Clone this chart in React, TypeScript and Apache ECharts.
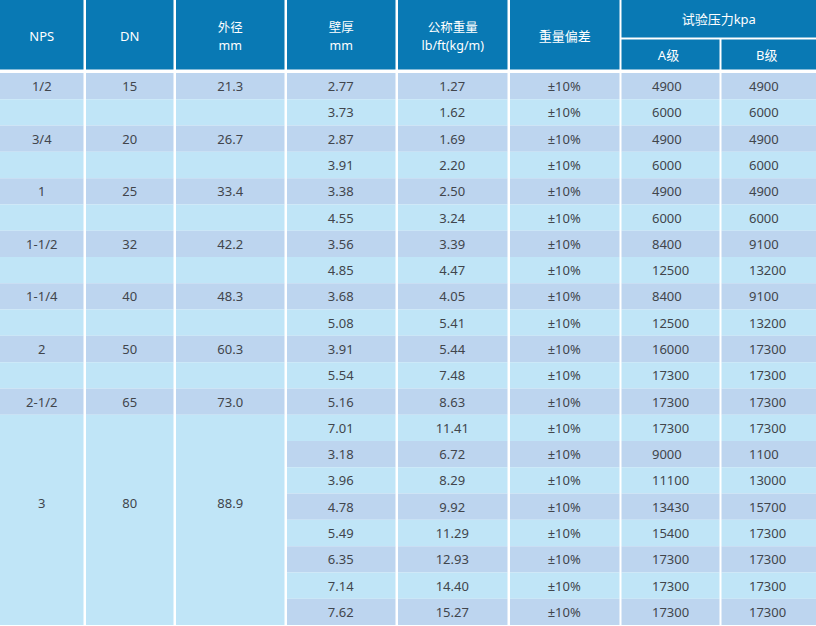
import React, { useEffect, useRef } from "react";
import * as echarts from "echarts";

// ---- data ----
const npsLabels = ["1/2", "3/4", "1", "1-1/2", "1-1/4", "2", "2-1/2", "3"];
const dnLabels = ["15", "20", "25", "32", "40", "50", "65", "80"];
const odLabels = ["21.3", "26.7", "33.4", "42.2", "48.3", "60.3", "73.0", "88.9"];
// row index where each NPS group's label sits
const groupLabelRow = [0, 2, 4, 6, 8, 10, 12, 16];
const wallThickness = ["2.77", "3.73", "2.87", "3.91", "3.38", "4.55", "3.56", "4.85", "3.68", "5.08", "3.91", "5.54", "5.16", "7.01", "3.18", "3.96", "4.78", "5.49", "6.35", "7.14", "7.62"];
const nominalWeight = ["1.27", "1.62", "1.69", "2.20", "2.50", "3.24", "3.39", "4.47", "4.05", "5.41", "5.44", "7.48", "8.63", "11.41", "6.72", "8.29", "9.92", "11.29", "12.93", "14.40", "15.27"];
const weightTolerance = ["±10%", "±10%", "±10%", "±10%", "±10%", "±10%", "±10%", "±10%", "±10%", "±10%", "±10%", "±10%", "±10%", "±10%", "±10%", "±10%", "±10%", "±10%", "±10%", "±10%", "±10%"];
const pressureA = [4900, 6000, 4900, 6000, 4900, 6000, 8400, 12500, 8400, 12500, 16000, 17300, 17300, 17300, 9000, 11100, 13430, 15400, 17300, 17300, 17300];
const pressureB = [4900, 6000, 4900, 6000, 4900, 6000, 9100, 13200, 9100, 13200, 17300, 17300, 17300, 17300, 1100, 13000, 15700, 17300, 17300, 17300, 17300];
const headerTitles = [["NPS"], ["DN"], ["外径", "mm"], ["壁厚", "mm"], ["公称重量", "lb/ft(kg/m)"], ["重量偏差"]];
const pressureTitle = "试验压力kpa";
const pressureSubTitles = ["A级", "B级"];

// ---- layout ----
const COLS: [number, number][] = [
  [0, 83.5], [86, 173.5], [176, 284.5], [287, 395.5], [398, 507.5], [510, 619.5], [621.5, 719.5], [721.5, 816],
];
const HEADER_H = 69.5;
const HEADER_SPLIT = 37.5;
const SUB_TOP = 39.5;
const BODY_TOP = 73;
const BODY_BOTTOM = 625;
const HEADER_BLUE = "#0979b4";
const DARK = "#bdd5ef";
const LIGHT = "#c0e5f7";
const TEXT = "#41454c";
const FONT = "'Noto Sans', 'Noto Sans CJK SC', sans-serif";

export default function App() {
  const ref = useRef<HTMLDivElement>(null);
  useEffect(() => {
    const chart = echarts.init(ref.current!, null, { renderer: "svg" });
    const nRows = wallThickness.length;
    const rh = (BODY_BOTTOM - BODY_TOP) / nRows;
    const rowY = (i: number) => BODY_TOP + i * rh;
    const els: any[] = [];
    const rect = (x0: number, y0: number, x1: number, y1: number, fill: string) =>
      els.push({ type: "rect", shape: { x: x0, y: y0, width: x1 - x0, height: y1 - y0 }, style: { fill }, silent: true });
    const text = (s: string, x: number, y: number, opts: any = {}) =>
      els.push({
        type: "text", x, y, silent: true,
        style: {
          text: s, fill: opts.fill || TEXT, font: `${opts.size || 13}px ${FONT}`,
          align: opts.align || "center", verticalAlign: "middle",
        },
      });

    // header
    for (let c = 0; c < 6; c++) {
      const [x0, x1] = COLS[c];
      rect(x0, 0, x1, HEADER_H, HEADER_BLUE);
      const cx = (x0 + x1) / 2;
      const lines = headerTitles[c];
      if (lines.length === 1) text(lines[0], cx, 36, { fill: "#fff" });
      else {
        text(lines[0], cx, 27.5, { fill: "#fff", size: 12.5 });
        text(lines[1], cx, 45, { fill: "#fff", size: 12.5 });
      }
    }
    rect(COLS[6][0], 0, COLS[7][1], HEADER_SPLIT, HEADER_BLUE);
    text(pressureTitle, (COLS[6][0] + COLS[7][1]) / 2, 19, { fill: "#fff" });
    for (let k = 0; k < 2; k++) {
      const [x0, x1] = COLS[6 + k];
      rect(x0, SUB_TOP, x1, HEADER_H, HEADER_BLUE);
      text(pressureSubTitles[k], (x0 + x1) / 2 - 2, 55, { fill: "#fff" });
    }

    // body backgrounds: group columns (0..2)
    const mergedStart = groupLabelRow[groupLabelRow.length - 2] + 1; // merged block starts after the 2-1/2 row
    for (let c = 0; c < 3; c++) {
      const [x0, x1] = COLS[c];
      for (let r = 0; r < mergedStart; r++) {
        rect(x0, rowY(r), x1, rowY(r + 1), r % 2 === 0 ? DARK : LIGHT);
      }
      rect(x0, rowY(mergedStart), x1, rowY(nRows), LIGHT);
    }
    // striped columns (3..7)
    for (let c = 3; c < 8; c++) {
      const [x0, x1] = COLS[c];
      for (let r = 0; r < nRows; r++) rect(x0, rowY(r), x1, rowY(r + 1), r % 2 === 0 ? DARK : LIGHT);
    }

    // group labels
    const groupCols = [npsLabels, dnLabels, odLabels];
    groupCols.forEach((arr, c) => {
      const [x0, x1] = COLS[c];
      arr.forEach((s, g) => text(s, (x0 + x1) / 2, rowY(groupLabelRow[g]) + rh / 2 - (g === arr.length - 1 ? 4 : 0)));
    });
    // row values
    const rowCols: string[][] = [wallThickness, nominalWeight, weightTolerance];
    rowCols.forEach((arr, k) => {
      const [x0, x1] = COLS[3 + k];
      arr.forEach((s, r) => text(s, (x0 + x1) / 2 - 0.5, rowY(r) + rh / 2));
    });
    [pressureA, pressureB].forEach((arr, k) => {
      const [x0] = COLS[6 + k];
      arr.forEach((v, r) => text(String(v), x0 + 30.5 - k * 3, rowY(r) + rh / 2, { align: "left" }));
    });

    chart.setOption({
      animation: false,
      backgroundColor: "#ffffff",
      graphic: { elements: els },
    });
    return () => chart.dispose();
  }, []);
  return <div ref={ref} style={{ position: "fixed", left: 0, top: 0, width: 816, height: 626 }} />;
}
